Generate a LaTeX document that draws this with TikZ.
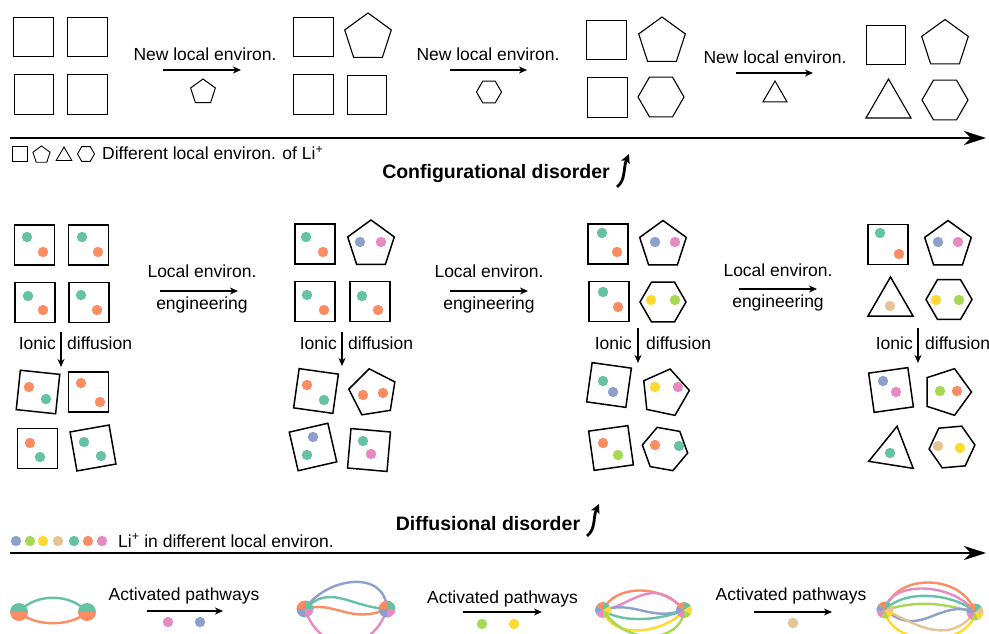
\documentclass[tikz,border=0pt]{standalone}
\usepackage{fontspec}
\setmainfont{Liberation Sans}
\usetikzlibrary{shapes.geometric,arrows.meta}
\definecolor{cblue}{HTML}{8DA0CB}
\definecolor{cgreen}{HTML}{A6D854}
\definecolor{cyellow}{HTML}{FFD92F}
\definecolor{ctan}{HTML}{E5C494}
\definecolor{cteal}{HTML}{66C2A5}
\definecolor{corange}{HTML}{FC8D62}
\definecolor{cpink}{HTML}{E78AC3}
\newcommand\piefill[5]{%
  \foreach \cc [count=\ii] in {#5} {%
    \pgfmathsetmacro\aa{#3+(\ii-1)*#4}%
    \pgfmathsetmacro\bb{\aa+#4}%
    \fill[\cc] (#1.center) -- ++(\aa:#2pt) arc[start angle=\aa, end angle=\bb, radius=#2pt] -- cycle;
  }}
\newcommand\dt[3]{\fill[#1] (#2,-#3) circle[radius=5.2pt];}
\begin{document}
\begin{tikzpicture}[x=1pt,y=1pt,
  txt/.style={font=\fontsize{17.5}{20}\selectfont, inner sep=0pt, anchor=base},
  btxt/.style={font=\fontsize{19.5}{22}\selectfont\bfseries, inner sep=0pt, anchor=base},
  poly/.style={draw, regular polygon, regular polygon sides=#1, inner sep=0pt, line width=1.1pt},
  sq/.style={poly=4, minimum size=56pt},
  pent/.style={poly=5, minimum size=49pt},
  hex/.style={poly=6, minimum size=46pt},
  tri/.style={poly=3, minimum size=52pt},
  mid/.style={line width=1.5pt},
  arr/.style={line width=1.4pt, -{Stealth[length=8pt,width=7pt,inset=2.5pt]}},
  axisarr/.style={line width=2.6pt, -{Stealth[length=22pt,width=14pt,inset=7pt]}},
  curv/.style={line width=2.8pt, -{Stealth[length=9pt,width=9pt,inset=2pt]}},
  pw/.style={line width=2.4pt},
  pie/.style={circle, inner sep=0pt, minimum size=18pt}
]
\useasboundingbox (0,0) rectangle (989,-634);

% ---------------- top row ----------------
\node[sq] (A1) at (33.5,-37) {};
\node[sq] (A2) at (87.5,-37) {};
\node[sq] (A3) at (34,-94.5) {};
\node[sq] (A4) at (87.5,-94.5) {};
\node[txt] (t1) at (205,-61) {New local environ.};
\coordinate (a1s) at (163,-70); \coordinate (a1e) at (241,-70);
\draw[arr] (a1s) -- (a1e);
\node[pent, minimum size=26pt, line width=1pt] (s1) at (203,-92) {};

\node[sq] (B1) at (313.5,-37) {};
\node[pent] (B2) at (368,-37.5) {};
\node[sq] (B3) at (313.5,-94.5) {};
\node[sq] (B4) at (367,-95) {};
\node[txt] (t2) at (488,-61) {New local environ.};
\coordinate (a2s) at (450,-70); \coordinate (a2e) at (527,-70);
\draw[arr] (a2s) -- (a2e);
\node[hex, minimum size=25pt, line width=1pt] (s2) at (489,-92) {};

\node[sq] (C1) at (606.5,-40) {};
\node[pent] (C2) at (662,-41.5) {};
\node[sq] (C3) at (607.5,-97.5) {};
\node[hex] (C4) at (661,-97) {};
\node[txt] (t3) at (775,-64) {New local environ.};
\coordinate (a3s) at (736,-73); \coordinate (a3e) at (813,-73);
\draw[arr] (a3s) -- (a3e);
\node[tri, minimum size=28pt, line width=1pt] (s3) at (775,-95) {};

\node[sq] (D1) at (886,-45) {};
\node[pent] (D2) at (945,-44) {};
\node[tri] (D3) at (888.5,-105) {};
\node[hex] (D4) at (945,-100) {};

\coordinate (x1s) at (10,-138); \coordinate (x1e) at (986,-138);
\draw[axisarr] (x1s) -- (x1e);

% legend 1
\node[poly=4, minimum size=20pt, line width=0.9pt] (lg1) at (20,-154) {};
\node[poly=5, minimum size=18pt, line width=0.9pt] (lg2) at (41.5,-155) {};
\node[poly=3, minimum size=18pt, line width=0.9pt] (lg3) at (64,-156) {};
\node[poly=6, minimum size=17pt, line width=0.9pt] (lg4) at (86,-154) {};
\node[txt, anchor=base west] (lgt) at (102,-160) {Different local environ. of Li\textsuperscript{+}};

\node[btxt] (cd) at (496,-178) {Configurational disorder};
\coordinate (cds) at (617,-187); \coordinate (cde) at (629,-154);
\draw[curv] (cds) .. controls (626,-180) and (623,-168) .. (cde);

% ---------------- middle row: group 1 ----------------
\node[sq, mid] (E1) at (34.5,-245) {};
\node[sq, mid] (E2) at (88.5,-245) {};
\node[sq, mid] (E3) at (35,-302.5) {};
\node[sq, mid] (E4) at (89,-302.5) {};
\dt{cteal}{27}{237} \dt{corange}{43}{252}
\dt{cteal}{82}{237} \dt{corange}{98}{252}
\dt{cteal}{28}{296} \dt{corange}{43}{310}
\dt{cteal}{81}{295} \dt{corange}{97}{310}

\coordinate (i1s) at (61,-332); \coordinate (i1e) at (61,-367);
\draw[arr] (i1s) -- (i1e);
\node[txt, anchor=base east] (io1) at (56,-349) {Ionic};
\node[txt, anchor=base west] (df1) at (67,-349) {diffusion};

\node[sq, mid, rotate=-6] (F1) at (38,-392) {};
\node[sq, mid] (F2) at (88.5,-392) {};
\node[sq, mid] (F3) at (37.5,-448.5) {};
\node[sq, mid, rotate=10] (F4) at (93,-448) {};
\dt{corange}{29}{387} \dt{cteal}{46}{399}
\dt{corange}{81}{383} \dt{corange}{100}{402}
\dt{corange}{30}{443} \dt{cteal}{40}{457}
\dt{cteal}{84}{442} \dt{cteal}{101}{456}

\node[txt] (le1) at (202,-277) {Local environ.};
\coordinate (e1s) at (160,-291); \coordinate (e1e) at (238,-291);
\draw[arr] (e1s) -- (e1e);
\node[txt] (en1) at (202,-309) {engineering};

% ---------------- middle row: group 2 ----------------
\node[sq, mid] (G1) at (315,-244) {};
\node[pent, mid] (G2) at (371,-244.5) {};
\node[sq, mid] (G3) at (315,-301.5) {};
\node[sq, mid] (G4) at (370,-301.5) {};
\dt{cteal}{306}{237} \dt{corange}{323}{252}
\dt{cblue}{360}{242} \dt{cpink}{381}{242}
\dt{cteal}{307}{295} \dt{corange}{324}{310}
\dt{cteal}{362}{296} \dt{corange}{378}{310}

\coordinate (i2s) at (342,-332); \coordinate (i2e) at (342,-366);
\draw[arr] (i2s) -- (i2e);
\node[txt, anchor=base east] (io2) at (337,-349) {Ionic};
\node[txt, anchor=base west] (df2) at (348,-349) {diffusion};

\node[sq, mid, rotate=-8] (H1) at (316,-391) {};
\node[pent, mid, rotate=9] (H2) at (373,-393) {};
\node[sq, mid, rotate=13] (H3) at (313,-447) {};
\node[sq, mid, rotate=-5] (H4) at (369,-450) {};
\dt{corange}{307}{385} \dt{cteal}{324}{400}
\dt{corange}{363}{395} \dt{corange}{383}{393}
\dt{cblue}{313}{437} \dt{cteal}{307}{455}
\dt{cteal}{363}{441} \dt{cpink}{371}{454}

\node[txt] (le2) at (489,-277) {Local environ.};
\coordinate (e2s) at (450,-291); \coordinate (e2e) at (528,-291);
\draw[arr] (e2s) -- (e2e);
\node[txt] (en2) at (489,-309) {engineering};

% ---------------- middle row: group 3 ----------------
\node[sq, mid] (I1) at (608,-244) {};
\node[pent, mid] (I2) at (663,-245) {};
\node[sq, mid] (I3) at (609,-301.5) {};
\node[hex, mid] (I4) at (663,-302) {};
\dt{cteal}{602}{233} \dt{corange}{617}{252}
\dt{cblue}{655}{242} \dt{cpink}{675}{242}
\dt{cteal}{603}{292} \dt{corange}{618}{307}
\dt{cyellow}{651}{300} \dt{cgreen}{675}{300}

\coordinate (i3s) at (638,-328); \coordinate (i3e) at (638,-363);
\draw[arr] (i3s) -- (i3e);
\node[txt, anchor=base east] (io3) at (632,-349) {Ionic};
\node[txt, anchor=base west] (df3) at (646,-349) {diffusion};

\node[sq, mid, rotate=-8] (J1) at (609,-385) {};
\node[pent, mid, rotate=-12] (J2) at (665,-393) {};
\node[sq, mid, rotate=8] (J3) at (611,-448) {};
\node[hex, mid, rotate=-10] (J4) at (665,-449) {};
\dt{cteal}{603}{381} \dt{cblue}{613}{392}
\dt{cyellow}{655}{387} \dt{cpink}{678}{387}
\dt{corange}{603}{443} \dt{cgreen}{618}{455}
\dt{corange}{655}{445} \dt{cteal}{679}{446}

\node[txt] (le3) at (778,-276) {Local environ.};
\coordinate (e3s) at (739,-289); \coordinate (e3e) at (817,-289);
\draw[arr] (e3s) -- (e3e);
\node[txt] (en3) at (778,-307) {engineering};

% ---------------- middle row: group 4 ----------------
\node[sq, mid] (K1) at (888,-244.5) {};
\node[pent, mid] (K2) at (948,-245) {};
\node[tri, mid] (K3) at (890.5,-303) {};
\node[hex, mid] (K4) at (949,-299.5) {};
\dt{cteal}{880}{233} \dt{corange}{899}{254}
\dt{cblue}{938}{242} \dt{cpink}{958}{242}
\dt{ctan}{890}{306}
\dt{cyellow}{936}{300} \dt{cgreen}{959}{300}

\coordinate (i4s) at (918,-328); \coordinate (i4e) at (918,-363);
\draw[arr] (i4s) -- (i4e);
\node[txt, anchor=base east] (io4) at (913,-349) {Ionic};
\node[txt, anchor=base west] (df4) at (925,-349) {diffusion};

\node[sq, mid, rotate=8] (L1) at (891,-390) {};
\node[pent, mid, rotate=-18] (L2) at (947,-392) {};
\node[tri, mid, rotate=-9] (L3) at (893,-452) {};
\node[hex, mid, rotate=5] (L4) at (952,-447) {};
\dt{cblue}{883}{381} \dt{cpink}{896}{392}
\dt{cgreen}{940}{391} \dt{corange}{957}{391}
\dt{cteal}{890}{453}
\dt{ctan}{938}{446} \dt{cyellow}{960}{448}

% ---------------- diffusional disorder ----------------
\node[btxt] (dd) at (488,-530) {Diffusional disorder};
\coordinate (dds) at (587,-536); \coordinate (dde) at (599,-504);
\draw[curv] (dds) .. controls (596,-529) and (593,-517) .. (dde);

\dt{cblue}{16}{541} \dt{cgreen}{30}{541} \dt{cyellow}{43}{541} \dt{ctan}{58}{541}
\dt{cteal}{74}{541} \dt{corange}{88}{541} \dt{cpink}{102}{541}
\node[txt, anchor=base west] (lgd) at (118,-547) {Li\textsuperscript{+} in different local environ.};

\coordinate (x2s) at (10,-553); \coordinate (x2e) at (986,-553);
\draw[axisarr] (x2s) -- (x2e);

% ---------------- bottom row: pathways ----------------
\node[pie] (Q1) at (19,-612) {};
\node[pie] (Q2) at (87,-612) {};
\draw[pw, cteal] (Q1.center) .. controls (35,-593) and (71,-593) .. (Q2.center);
\draw[pw, corange] (Q1.center) .. controls (35,-627) and (71,-627) .. (Q2.center);
\piefill{Q1}{9}{0}{180}{cteal,corange}
\piefill{Q2}{9}{0}{180}{cteal,corange}

\node[txt] (ap1) at (184,-600) {Activated pathways};
\coordinate (p1s) at (147,-611); \coordinate (p1e) at (223,-611);
\draw[arr] (p1s) -- (p1e);
\dt{cpink}{168}{622} \dt{cblue}{200}{622}

\node[pie] (Q3) at (305,-609) {};
\node[pie] (Q4) at (387,-609) {};
\draw[pw, cblue] (Q3.center) .. controls (325,-578) and (385,-568) .. (Q4.center);
\draw[pw, cteal] (Q3.center) .. controls (330,-583) and (350,-607) .. (Q4.center);
\draw[pw, corange] (Q3.center) .. controls (335,-600) and (350,-625) .. (Q4.center);
\draw[pw, cpink] (Q3.center) .. controls (320,-655) and (372,-655) .. (Q4.center);
\piefill{Q3}{8.5}{0}{90}{cteal,corange,cblue,cpink}
\piefill{Q4}{8.5}{0}{90}{cteal,corange,cblue,cpink}

\node[txt] (ap2) at (502.5,-603) {Activated pathways};
\coordinate (p2s) at (463,-612); \coordinate (p2e) at (542,-612);
\draw[arr] (p2s) -- (p2e);
\dt{cgreen}{482}{624} \dt{cyellow}{514}{624}

\node[pie] (Q5) at (603,-610) {};
\node[pie] (Q6) at (684,-610) {};
\draw[pw, corange] (Q5.center) .. controls (615,-584) and (662,-584) .. (Q6.center);
\draw[pw, cpink] (Q5.center) .. controls (632,-606) and (652,-574) .. (Q6.center);
\draw[pw, cblue] (Q5.center) .. controls (635,-600) and (650,-622) .. (Q6.center);
\draw[pw, cteal] (Q5.center) .. controls (622,-624) and (662,-620) .. (Q6.center);
\draw[pw, cyellow] (Q5.center) .. controls (612,-642) and (668,-632) .. (Q6.center);
\draw[pw, cgreen] (Q5.center) .. controls (628,-648) and (682,-642) .. (Q6.center);
\piefill{Q5}{8}{30}{60}{cteal,corange,cblue,cpink,cgreen,cyellow}
\piefill{Q6}{8}{30}{60}{cteal,corange,cblue,cpink,cgreen,cyellow}

\node[txt] (ap3) at (791,-600) {Activated pathways};
\coordinate (p3s) at (754,-612); \coordinate (p3e) at (832,-612);
\draw[arr] (p3s) -- (p3e);
\dt{ctan}{793}{623}

\node[pie] (Q7) at (885,-610) {};
\node[pie] (Q8) at (975,-612) {};
\draw[pw, corange] (Q7.center) .. controls (895,-573) and (962,-573) .. (Q8.center);
\draw[pw, cpink] (Q7.center) .. controls (888,-582) and (950,-580) .. (Q8.center);
\draw[pw, cteal] (Q7.center) .. controls (905,-588) and (955,-594) .. (Q8.center);
\draw[pw, cgreen] (Q7.center) .. controls (925,-598) and (948,-606) .. (Q8.center);
\draw[pw, cblue] (Q7.center) .. controls (922,-640) and (938,-598) .. (Q8.center);
\draw[pw, ctan] (Q7.center) .. controls (912,-622) and (948,-648) .. (Q8.center);
\draw[pw, cyellow] (Q7.center) .. controls (890,-648) and (970,-648) .. (Q8.center);
\piefill{Q7}{8.5}{90}{51.43}{corange,cblue,cpink,cgreen,cyellow,ctan,cteal}
\piefill{Q8}{8.5}{90}{51.43}{corange,cblue,cpink,cgreen,cyellow,ctan,cteal}
\end{tikzpicture}
\end{document}
